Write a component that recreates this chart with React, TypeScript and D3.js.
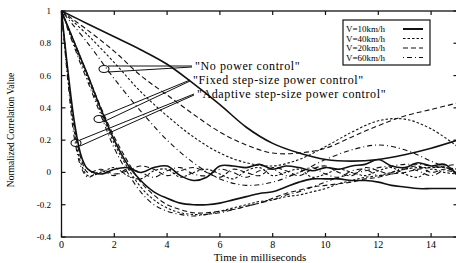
import * as d3 from "d3";
import { useEffect, useRef } from "react";

// legend labels, in the order of the line styles
const speeds = ["V=10km/h", "V=40km/h", "V=20km/h", "V=60km/h"];

const xTicks = [0, 2, 4, 6, 8, 10, 12, 14];
const yTicks = [-0.4, -0.2, 0, 0.2, 0.4, 0.6, 0.8, 1];
const yTickLabels = ["-0.4", "-0.2", "0", "0.2", "0.4", "0.6", "0.8", "1"];

// "No power control" curves (1 ms steps)
const npcTime = [0, 1, 2, 3, 4, 5, 6, 7, 8, 9, 10, 11, 12, 13, 14, 15];
const npc10 = [1, 0.92, 0.84, 0.76, 0.67, 0.55, 0.42, 0.28, 0.18, 0.12, 0.08, 0.07, 0.08, 0.11, 0.15, 0.2];
const npc40 = [1, 0.85, 0.68, 0.5, 0.35, 0.22, 0.12, 0.06, 0.04, 0.08, 0.16, 0.25, 0.32, 0.33, 0.27, 0.16];
const npc20 = [1, 0.88, 0.75, 0.6, 0.48, 0.36, 0.25, 0.17, 0.12, 0.12, 0.15, 0.22, 0.29, 0.35, 0.39, 0.43];
const npc60 = [1, 0.8, 0.58, 0.38, 0.2, 0.06, -0.04, -0.08, -0.06, 0.0, 0.08, 0.14, 0.17, 0.14, 0.07, 0.0];

// fixed / adaptive step-size curves
const time = [0, 0.25, 0.5, 0.75, 1, 1.5, 2, 2.5, 3, 3.5, 4, 4.5, 5, 5.5, 6, 6.5, 7, 7.5, 8, 8.5, 9, 9.5, 10, 10.5, 11, 11.5, 12, 12.5, 13, 13.5, 14, 14.5, 15];
const fixed10 = [1, 0.9, 0.8, 0.7, 0.6, 0.39, 0.2, 0.05, -0.05, -0.12, -0.16, -0.19, -0.2, -0.2, -0.19, -0.17, -0.15, -0.13, -0.12, -0.09, -0.06, -0.04, -0.04, -0.04, -0.05, -0.05, -0.06, -0.08, -0.09, -0.1, -0.1, -0.1, -0.1];
const fixed40 = [1, 0.89, 0.78, 0.68, 0.58, 0.37, 0.18, 0.03, -0.09, -0.17, -0.22, -0.25, -0.26, -0.26, -0.24, -0.22, -0.2, -0.18, -0.17, -0.15, -0.14, -0.12, -0.1, -0.07, -0.05, -0.03, -0.02, 0.0, 0.02, 0.03, 0.03, 0.03, 0.02];
const fixed20 = [1, 0.9, 0.8, 0.7, 0.6, 0.4, 0.22, 0.07, -0.06, -0.14, -0.2, -0.23, -0.25, -0.25, -0.24, -0.23, -0.21, -0.19, -0.16, -0.13, -0.11, -0.09, -0.08, -0.07, -0.06, -0.04, -0.03, -0.01, 0.0, 0.02, 0.03, 0.04, 0.05];
const fixed60 = [1, 0.88, 0.77, 0.66, 0.56, 0.35, 0.15, 0.0, -0.12, -0.2, -0.24, -0.26, -0.27, -0.26, -0.25, -0.23, -0.21, -0.19, -0.17, -0.14, -0.12, -0.09, -0.06, -0.03, -0.01, 0.01, 0.03, 0.04, 0.05, 0.05, 0.04, 0.03, 0.02];
const adapt10 = [1, 0.62, 0.3, 0.1, 0.02, -0.01, 0.02, 0.03, 0.0, 0.03, 0.04, -0.02, -0.05, -0.03, 0.04, 0.04, 0.03, 0.05, 0.02, 0.04, 0.03, 0.01, 0.03, 0.02, 0.04, 0.05, 0.08, 0.04, 0.03, 0.06, 0.04, 0.05, -0.02];
const adapt40 = [1, 0.58, 0.24, 0.05, -0.02, 0.0, 0.03, -0.02, -0.04, 0.01, 0.02, -0.03, 0.0, 0.02, -0.01, -0.04, 0.01, 0.03, -0.02, 0.0, 0.02, -0.03, -0.01, 0.02, 0.0, -0.02, 0.01, 0.03, -0.01, -0.03, 0.02, 0.0, -0.01];
const adapt20 = [1, 0.6, 0.27, 0.08, 0.0, 0.02, -0.01, 0.01, 0.04, 0.02, -0.02, 0.01, 0.03, 0.0, -0.03, 0.02, 0.0, -0.02, 0.03, 0.01, -0.02, 0.02, 0.04, 0.0, -0.02, 0.03, 0.01, -0.01, 0.02, 0.04, 0.0, 0.02, 0.01];
const adapt60 = [1, 0.55, 0.2, 0.03, -0.03, 0.01, -0.02, 0.02, 0.0, -0.03, 0.01, 0.03, -0.01, -0.02, 0.02, 0.0, -0.03, 0.01, 0.02, -0.02, 0.0, 0.03, -0.01, -0.03, 0.01, 0.02, -0.02, 0.0, 0.03, 0.01, -0.02, 0.01, 0.0];

const annotations = [
  "\"No power control\"",
  "\"Fixed step-size power control\"",
  "\"Adaptive step-size power control\"",
];

const App = () => {
  const ref = useRef<SVGSVGElement>(null);

  const width = 456;
  const height = 263;
  const font = "'Liberation Serif', 'DejaVu Serif', serif";

  // line style per speed (solid, short dash, long dash, dash-dot)
  const dashes = ["none", "2.5,2", "5,3", "1,3,5,3"];
  const widths = [1.6, 1.1, 1.1, 1.1];

  useEffect(() => {
    if (!ref.current) return;
    const svg = d3.select(ref.current);
    svg.selectAll("*").remove();

    const x = d3.scaleLinear().domain([0, 15]).range([61.5, 457.5]);
    const y = d3.scaleLinear().domain([-0.4, 1]).range([237, 11]);

    const line = d3
      .line<[number, number]>()
      .x((d) => x(d[0]))
      .y((d) => y(d[1]))
      .curve(d3.curveCatmullRom.alpha(0.5));

    const plot = svg.append("g");
    const groups = [
      { t: npcTime, ys: [npc10, npc40, npc20, npc60] },
      { t: time, ys: [fixed10, fixed40, fixed20, fixed60] },
      { t: time, ys: [adapt10, adapt40, adapt20, adapt60] },
    ];
    groups.forEach((g) => {
      g.ys.forEach((vals, i) => {
        plot
          .append("path")
          .attr("d", line(g.t.map((t, k) => [t, vals[k]] as [number, number])))
          .attr("fill", "none")
          .attr("stroke", "#111")
          .attr("stroke-width", widths[i])
          .attr("stroke-dasharray", dashes[i]);
      });
    });

    // frame
    const x0 = x(0), x1 = x(15), y0 = y(-0.4), y1 = y(1);
    svg
      .append("rect")
      .attr("x", x0)
      .attr("y", y1)
      .attr("width", x1 - x0)
      .attr("height", y0 - y1)
      .attr("fill", "none")
      .attr("stroke", "#111")
      .attr("stroke-width", 1.3);

    // ticks on all four sides, pointing inward
    const axisG = svg.append("g").attr("stroke", "#111").attr("stroke-width", 1.2);
    xTicks.forEach((t) => {
      axisG.append("line").attr("x1", x(t)).attr("x2", x(t)).attr("y1", y0).attr("y2", y0 - 4);
      axisG.append("line").attr("x1", x(t)).attr("x2", x(t)).attr("y1", y1).attr("y2", y1 + 4);
    });
    yTicks.forEach((v) => {
      axisG.append("line").attr("x1", x0).attr("x2", x0 + 4).attr("y1", y(v)).attr("y2", y(v));
      axisG.append("line").attr("x1", x1).attr("x2", x1 - 4).attr("y1", y(v)).attr("y2", y(v));
    });

    svg
      .append("g")
      .selectAll("text")
      .data(xTicks)
      .enter()
      .append("text")
      .attr("x", (d) => x(d))
      .attr("y", 248)
      .attr("text-anchor", "middle")
      .style("font-family", font)
      .style("font-size", "10px")
      .text((d) => d);

    svg
      .append("g")
      .selectAll("text")
      .data(yTicks)
      .enter()
      .append("text")
      .attr("x", 51)
      .attr("y", (d) => y(d) + 3)
      .attr("text-anchor", "end")
      .style("font-family", font)
      .style("font-size", "9px")
      .text((_d, i) => yTickLabels[i]);

    svg
      .append("text")
      .attr("x", 260)
      .attr("y", 261)
      .attr("text-anchor", "middle")
      .style("font-family", font)
      .style("font-size", "11px")
      .text("Time in milliseconds");

    svg
      .append("text")
      .attr("transform", "translate(14,130) rotate(-90)")
      .attr("text-anchor", "middle")
      .style("font-family", font)
      .style("font-size", "9.5px")
      .text("Normalized Correlation Value");

    // annotations: ellipse + wedge pointer + text
    const notes = [
      { ex: 104, ey: 69, tx: 195, ty: 66 },
      { ex: 99, ey: 119, tx: 193, ty: 80 },
      { ex: 76, ey: 143, tx: 197, ty: 94 },
    ];
    const ann = svg.append("g");
    notes.forEach((n, i) => {
      ann
        .append("ellipse")
        .attr("cx", n.ex)
        .attr("cy", n.ey)
        .attr("rx", 5)
        .attr("ry", 3.5)
        .attr("fill", "none")
        .attr("stroke", "#111")
        .attr("stroke-width", 1.1);
      ann
        .append("path")
        .attr("d", `M${n.ex + 4},${n.ey - 3}L${n.tx - 3},${n.ty}M${n.ex + 4},${n.ey + 3}L${n.tx - 3},${n.ty + 1}`)
        .attr("fill", "none")
        .attr("stroke", "#111")
        .attr("stroke-width", 1);
      ann
        .append("text")
        .attr("x", n.tx)
        .attr("y", n.ty + 4)
        .style("font-family", font)
        .style("font-size", "12px")
        .style("letter-spacing", "0.6px")
        .text(annotations[i]);
    });

    // legend
    const lg = svg.append("g");
    lg.append("rect")
      .attr("x", 343)
      .attr("y", 20)
      .attr("width", 87)
      .attr("height", 45)
      .attr("fill", "white")
      .attr("stroke", "#111")
      .attr("stroke-width", 1.2);
    speeds.forEach((s, i) => {
      const ly = 29 + i * 9.5;
      lg.append("text")
        .attr("x", 346)
        .attr("y", ly + 3)
        .style("font-family", font)
        .style("font-size", "9px")
        .text(s);
      lg.append("line")
        .attr("x1", 403)
        .attr("x2", 423)
        .attr("y1", ly)
        .attr("y2", ly)
        .attr("stroke", "#111")
        .attr("stroke-width", i === 0 ? 2 : 1.2)
        .attr("stroke-dasharray", dashes[i]);
    });
  }, []);

  return (
    <svg
      ref={ref}
      width={width}
      height={height}
      style={{ position: "absolute", left: 0, top: 0, background: "white" }}
    ></svg>
  );
};

export default App;
